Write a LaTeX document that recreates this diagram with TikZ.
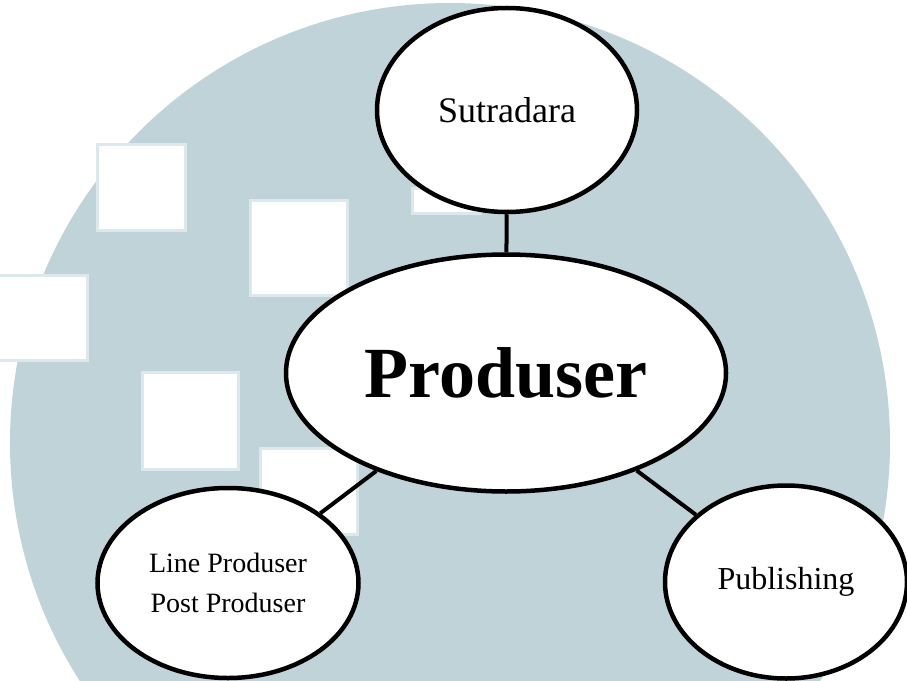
\documentclass[tikz,border=0pt]{standalone}
\usepackage{fontspec}
\setmainfont{Liberation Serif}
\usetikzlibrary{shapes.geometric}
\definecolor{bgblue}{RGB}{192,211,217}
\definecolor{edgeblue}{RGB}{221,232,236}
\tikzset{
  bubble/.style={ellipse, draw=black, line width=4.5bp, fill=white, inner sep=0pt, align=center},
  conn/.style={draw=black, line width=4bp},
  hole/.style={fill=white, draw=edgeblue, line width=3bp}
}
\begin{document}
\begin{tikzpicture}[x=1bp,y=-1bp]
\useasboundingbox (0,0) rectangle (907,681);
\begin{scope}
  \clip (0,0) rectangle (907,681);
  \fill[bgblue] (450,443) circle [radius=440bp];
  \path[hole] (97,145) rectangle (185,230);
  \path[hole] (-5,275) rectangle (87,360);
  \path[hole] (250,200) rectangle (347,295);
  \path[hole] (142,372) rectangle (238,469);
  \path[hole] (260,448) rectangle (357,534);
  \path[hole] (412,188) rectangle (480,213);
\end{scope}
\node[bubble, minimum width=260bp, minimum height=204bp,
  font=\fontsize{36bp}{42bp}\selectfont] (sut) at (507,110) {Sutradara};
\node[bubble, minimum width=440bp, minimum height=237bp,
  font=\fontsize{72bp}{80bp}\selectfont\bfseries] (prod) at (506,373) {Produser};
\node[bubble, minimum width=261bp, minimum height=190bp,
  font=\fontsize{28bp}{40bp}\selectfont] (line) at (228,583) {Line Produser\\Post Produser};
\node[bubble, minimum width=242bp, minimum height=193bp,
  font=\fontsize{32bp}{38bp}\selectfont] (pub) at (786,582) {Publishing};
\draw[conn] (prod) -- (sut);
\draw[conn] (prod) -- (line);
\draw[conn] (prod) -- (pub);
\end{tikzpicture}
\end{document}
